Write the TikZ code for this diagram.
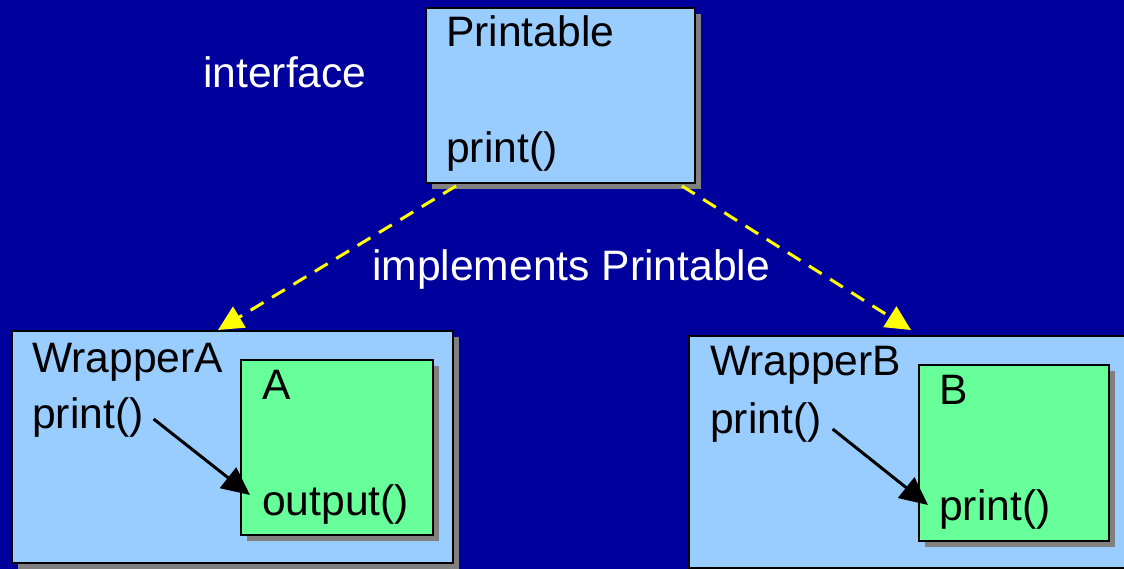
\documentclass[tikz,border=0pt]{standalone}
\usepackage{fontspec}
\setmainfont{Liberation Sans}
\usetikzlibrary{arrows.meta,shadows,calc}
\definecolor{bgblue}{RGB}{0,0,156}
\definecolor{classblue}{RGB}{153,204,255}
\definecolor{innergreen}{RGB}{102,255,153}
\definecolor{shadowgray}{RGB}{128,128,128}
\definecolor{dashyellow}{RGB}{255,255,0}
\tikzset{
  box/.style={draw=black, line width=2pt, anchor=north west, inner sep=0pt,
    drop shadow={shadow xshift=6pt, shadow yshift=-6pt, fill=shadowgray, opacity=1}},
  classbox/.style={box, fill=classblue},
  innerbox/.style={box, fill=innergreen},
  label/.style={anchor=base west, inner sep=0pt, font=\fontsize{42.6}{50}\selectfont},
  whitelabel/.style={label, text=white},
  realizes/.style={draw=dashyellow, line width=3pt, dash pattern=on 15pt off 10pt,
    -{Triangle[length=25pt,width=24pt,fill=dashyellow]}},
  delegates/.style={draw=black, line width=3pt,
    -{Triangle[length=28pt,width=26pt]}}
}
\begin{document}
\begin{tikzpicture}[x=1pt,y=-1pt]
  \useasboundingbox (0,0) rectangle (1124,569);
  \fill[bgblue] (0,0) rectangle (1124,569);

  % interface
  \node[classbox, minimum width=269pt, minimum height=175pt] (printable) at (425,7) {};
  \node[label] (ptitle) at (446,47) {Printable};
  \node[label] (pprint) at (446,163) {print()};
  \node[whitelabel] (iface) at (203,88) {interface};

  % first wrapper
  \node[classbox, minimum width=441pt, minimum height=232pt] (wrapa) at (11,330) {};
  \node[label] (watitle) at (32,372) {WrapperA};
  \node[label] (waprint) at (32,428) {print()};
  \node[innerbox, minimum width=192pt, minimum height=175pt] (boxa) at (240,359) {};
  \node[label] (atitle) at (262,399) {A};
  \node[label] (aoutput) at (262,515) {output()};

  % second wrapper
  \node[classbox, minimum width=450pt, minimum height=232pt] (wrapb) at (688,335) {};
  \node[label] (wbtitle) at (710,375) {WrapperB};
  \node[label] (wbprint) at (710,433) {print()};
  \node[innerbox, minimum width=190pt, minimum height=176pt] (boxb) at (918,364) {};
  \node[label] (btitle) at (939,404) {B};
  \node[label] (bprint) at (939,520) {print()};

  % realization arrows
  \draw[realizes] ($(printable.south west)+(31,2)$) -- ($(wrapa.north west)+(207,0)$);
  \draw[realizes] ($(printable.south east)+(-14,2)$) -- ($(wrapb.north west)+(223,-5)$);
  \node[whitelabel] (impl) at (372,280) {implements Printable};

  % delegation arrows
  \draw[delegates] ($(waprint.base east)+(10,-9)$) -- ($(aoutput.base west)+(-12,-20)$);
  \draw[delegates] ($(wbprint.base east)+(11,-4)$) -- ($(bprint.base west)+(-11,-15)$);
\end{tikzpicture}
\end{document}
